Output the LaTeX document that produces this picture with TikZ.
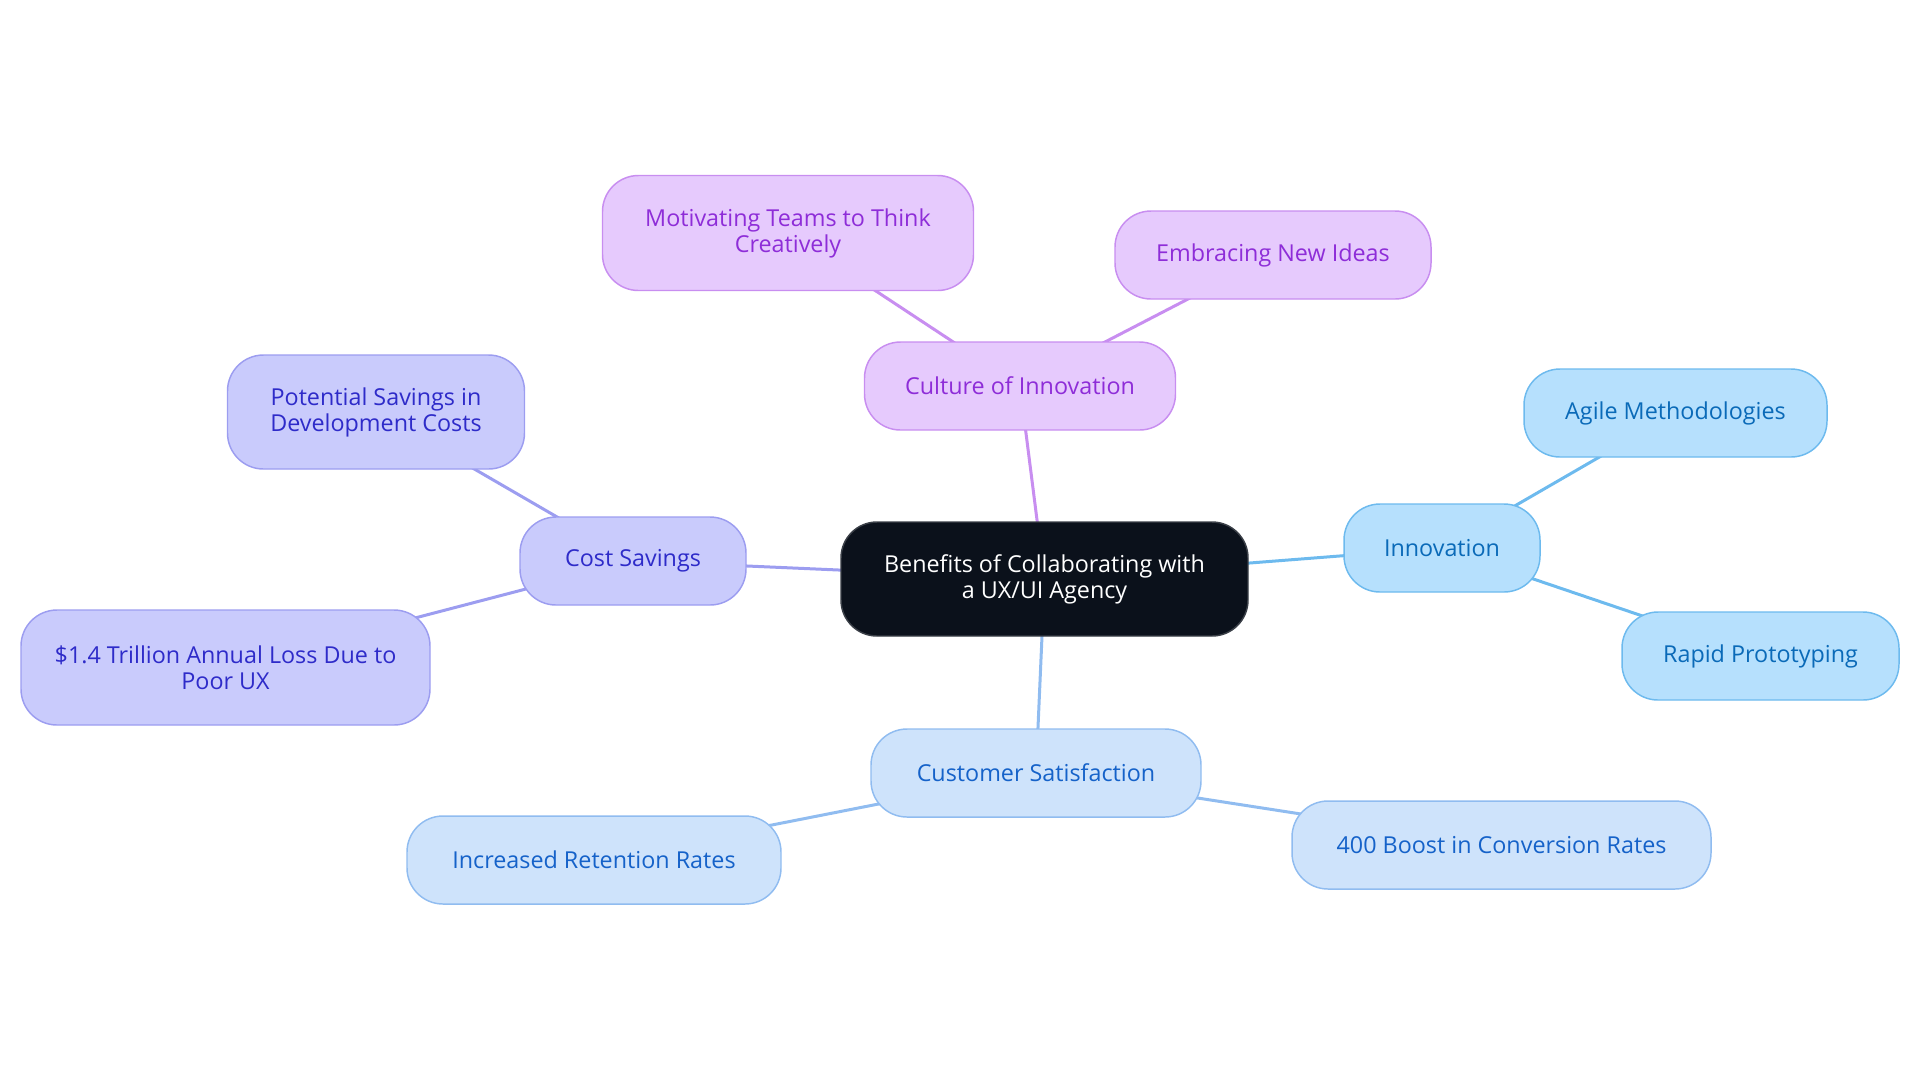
\documentclass[tikz,border=0pt]{standalone}
\usepackage{fontspec}
\setmainfont{Open Sans}
\usetikzlibrary{backgrounds}
\definecolor{cfill}{HTML}{0B111B}
\definecolor{cdraw}{HTML}{3A3F47}
\definecolor{pfill}{HTML}{E6CAFD}
\definecolor{pdraw}{HTML}{C88EF0}
\definecolor{ptext}{HTML}{8E2DD8}
\definecolor{vfill}{HTML}{C9CBFC}
\definecolor{vdraw}{HTML}{9C9DF0}
\definecolor{vtext}{HTML}{2E2BC9}
\definecolor{bfill}{HTML}{B6E0FD}
\definecolor{bdraw}{HTML}{6DBAEE}
\definecolor{btext}{HTML}{0A6AB8}
\definecolor{sfill}{HTML}{CEE3FB}
\definecolor{sdraw}{HTML}{90BCF0}
\definecolor{stext}{HTML}{1562C9}
\tikzset{
  box/.style={rectangle, rounded corners=27pt, line width=1.1pt, align=center,
    font=\fontsize{17.5}{19.5}\selectfont, inner sep=0pt},
  rootbox/.style={box, fill=cfill, draw=cdraw, text=white},
  pbox/.style={box, fill=pfill, draw=pdraw, text=ptext},
  vbox/.style={box, fill=vfill, draw=vdraw, text=vtext},
  bbox/.style={box, fill=bfill, draw=bdraw, text=btext},
  sbox/.style={box, fill=sfill, draw=sdraw, text=stext},
  link/.style={line width=2.25pt}
}
\begin{document}
\begin{tikzpicture}[x=0.75pt,y=-0.75pt]
\useasboundingbox (0,0) rectangle (1920,1083);
% nodes
\node[rootbox, minimum width=305.25pt, minimum height=85.5pt] (root) at (1044.5,579) {Benefits of Collaborating with\\a UX/UI Agency};
\node[pbox, minimum width=233.25pt, minimum height=66pt] (cult) at (1020,386) {Culture of Innovation};
\node[pbox, minimum width=278.25pt, minimum height=86.25pt] (moti) at (788,233) {Motivating Teams to Think\\Creatively};
\node[pbox, minimum width=237pt, minimum height=66pt] (embr) at (1273,255) {Embracing New Ideas};
\node[vbox, minimum width=169.5pt, minimum height=66pt] (cost) at (633,561) {Cost Savings};
\node[vbox, minimum width=222.75pt, minimum height=85.5pt] (pote) at (376,412) {Potential Savings in\\Development Costs};
\node[vbox, minimum width=306.75pt, minimum height=86.25pt] (loss) at (225.5,667.5) {\$1.4 Trillion Annual Loss Due to\\Poor UX};
\node[bbox, minimum width=147pt, minimum height=66pt] (inno) at (1442,548) {Innovation};
\node[bbox, minimum width=227.25pt, minimum height=66pt] (agil) at (1675.5,413) {Agile Methodologies};
\node[bbox, minimum width=207.75pt, minimum height=66pt] (rapi) at (1760.5,656) {Rapid Prototyping};
\node[sbox, minimum width=247.5pt, minimum height=66pt] (cust) at (1036,773) {Customer Satisfaction};
\node[sbox, minimum width=280.5pt, minimum height=66pt] (rete) at (594,860) {Increased Retention Rates};
\node[sbox, minimum width=314.25pt, minimum height=66pt] (boos) at (1501.5,845) {400 Boost in Conversion Rates};
% connectors behind nodes
\begin{scope}[on background layer]
\draw[link, pdraw] (root.center) -- (cult.center);
\draw[link, pdraw] (cult.center) -- (moti.center);
\draw[link, pdraw] (cult.center) -- (embr.center);
\draw[link, vdraw] (root.center) -- (cost.center);
\draw[link, vdraw] (cost.center) -- (pote.center);
\draw[link, vdraw] (cost.center) -- (loss.center);
\draw[link, bdraw] (root.center) -- (inno.center);
\draw[link, bdraw] (inno.center) -- (agil.center);
\draw[link, bdraw] (inno.center) -- (rapi.center);
\draw[link, sdraw] (root.center) -- (cust.center);
\draw[link, sdraw] (cust.center) -- (rete.center);
\draw[link, sdraw] (cust.center) -- (boos.center);
\end{scope}
\end{tikzpicture}
\end{document}
